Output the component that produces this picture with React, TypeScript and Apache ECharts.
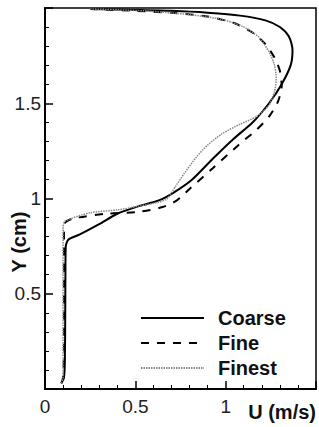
import React, { useEffect, useRef } from "react";
import * as echarts from "echarts";

const coarseU = [0.09, 0.105, 0.11, 0.112, 0.113, 0.115, 0.13, 0.19, 0.30, 0.40, 0.52, 0.63, 0.71, 0.815, 0.93, 1.04, 1.15, 1.24, 1.31, 1.36, 1.37, 1.35, 1.30, 1.22, 1.08, 0.90, 0.70, 0.50, 0.25];
const coarseY = [0.03, 0.06, 0.15, 0.4, 0.6, 0.75, 0.785, 0.81, 0.865, 0.92, 0.96, 0.99, 1.03, 1.10, 1.21, 1.31, 1.40, 1.50, 1.60, 1.70, 1.78, 1.85, 1.90, 1.935, 1.96, 1.975, 1.985, 1.99, 1.995];

const fineU = [0.09, 0.10, 0.105, 0.105, 0.105, 0.11, 0.155, 0.34, 0.52, 0.65, 0.73, 0.80, 0.93, 1.07, 1.17, 1.24, 1.29, 1.31, 1.30, 1.27, 1.22, 1.15, 1.05, 0.90, 0.70, 0.50, 0.25];
const fineY = [0.03, 0.06, 0.2, 0.5, 0.8, 0.87, 0.895, 0.92, 0.93, 0.955, 0.99, 1.05, 1.16, 1.28, 1.36, 1.43, 1.51, 1.59, 1.67, 1.74, 1.81, 1.87, 1.92, 1.955, 1.975, 1.985, 1.995];

const finestU = [0.09, 0.10, 0.10, 0.10, 0.10, 0.11, 0.25, 0.40, 0.52, 0.67, 0.72, 0.77, 0.84, 0.90, 0.98, 1.08, 1.17, 1.24, 1.27, 1.28, 1.27, 1.24, 1.18, 1.10, 0.98, 0.80, 0.55, 0.25];
const finestY = [0.03, 0.06, 0.3, 0.6, 0.84, 0.88, 0.925, 0.94, 0.96, 0.995, 1.06, 1.13, 1.22, 1.28, 1.34, 1.39, 1.43, 1.49, 1.56, 1.63, 1.70, 1.77, 1.85, 1.90, 1.94, 1.965, 1.985, 1.995];

const seriesNames = ["Coarse", "Fine", "Finest"];
const xTickLabels = ["0", "0.5", "1"];
const yTickLabels = ["0.5", "1", "1.5"];

const zip = (a: number[], b: number[]) => a.map((v, i) => [v, b[i]]);

const FONT = "'Liberation Sans', Arial, sans-serif";

export default function App() {
  const ref = useRef<HTMLDivElement>(null);
  useEffect(() => {
    if (!ref.current) return;
    const chart = echarts.init(ref.current, undefined, { renderer: "svg" });
    const fmt = (labels: string[]) => (v: number) => {
      const s = String(Math.round(v * 10) / 10);
      return labels.includes(s) ? s : "";
    };
    chart.setOption({
      animation: false,
      backgroundColor: "#fff",
      grid: {
        left: 45,
        right: 2,
        top: 8,
        bottom: 38,
        show: true,
        borderColor: "#000",
        borderWidth: 1.5,
        backgroundColor: "transparent",
      },
      xAxis: {
        type: "value",
        min: 0,
        max: 1.5,
        interval: 0.5,
        axisLine: { show: true, lineStyle: { color: "#000", width: 2 } },
        axisTick: { show: true, inside: true, length: 8, lineStyle: { color: "#000", width: 1.5 } },
        minorTick: { show: true, splitNumber: 5, length: 4, lineStyle: { color: "#000", width: 1 } },
        splitLine: { show: false },
        axisLabel: {
          formatter: fmt(xTickLabels),
          fontSize: 19,
          color: "#222",
          fontFamily: FONT,
          margin: 8,
        },
      },
      yAxis: {
        type: "value",
        min: 0,
        max: 2,
        interval: 0.5,
        axisLine: { show: true, lineStyle: { color: "#000", width: 2 } },
        axisTick: { show: true, inside: true, length: 8, lineStyle: { color: "#000", width: 1.5 } },
        minorTick: { show: true, splitNumber: 5, length: 4, lineStyle: { color: "#000", width: 1 } },
        splitLine: { show: false },
        axisLabel: {
          formatter: fmt(yTickLabels),
          fontSize: 19,
          color: "#222",
          fontFamily: FONT,
          margin: 4,
        },
      },
      legend: {
        left: 140,
        top: 308,
        padding: 0,
        orient: "vertical",
        itemWidth: 63,
        itemHeight: 14,
        itemGap: 5,
        data: seriesNames,
        itemStyle: { opacity: 0 },
        textStyle: {
          fontSize: 20,
          fontWeight: "bold",
          color: "#111",
          fontFamily: FONT,
          padding: [0, 0, 0, 9],
        },
      },
      graphic: [
        {
          type: "text",
          x: 19,
          y: 242,
          rotation: Math.PI / 2,
          style: {
            text: "Y (cm)",
            font: `bold 20px ${FONT}`,
            fill: "#111",
            align: "center",
            verticalAlign: "middle",
          },
        },
        {
          type: "text",
          x: 316,
          y: 412,
          style: {
            text: "U (m/s)",
            font: `bold 20px ${FONT}`,
            fill: "#111",
            align: "right",
            verticalAlign: "middle",
          },
        },
      ],
      series: [
        {
          name: seriesNames[0],
          type: "line",
          data: zip(coarseU, coarseY),
          symbol: "none",
          smooth: 0.25,
          lineStyle: { color: "#000", width: 2 },
          itemStyle: { color: "#000" },
        },
        {
          name: seriesNames[1],
          type: "line",
          data: zip(fineU, fineY),
          symbol: "none",
          smooth: 0.25,
          lineStyle: { color: "#000", width: 2, type: [8, 8] },
          itemStyle: { color: "#000" },
        },
        {
          name: seriesNames[2],
          type: "line",
          data: zip(finestU, finestY),
          symbol: "none",
          smooth: 0.25,
          lineStyle: { color: "#888", width: 1.5, type: [1.5, 1] },
          itemStyle: { color: "#888" },
        },
      ],
    });
    return () => chart.dispose();
  }, []);
  return <div ref={ref} style={{ width: 319, height: 427, position: "absolute", left: 0, top: 0 }} />;
}
